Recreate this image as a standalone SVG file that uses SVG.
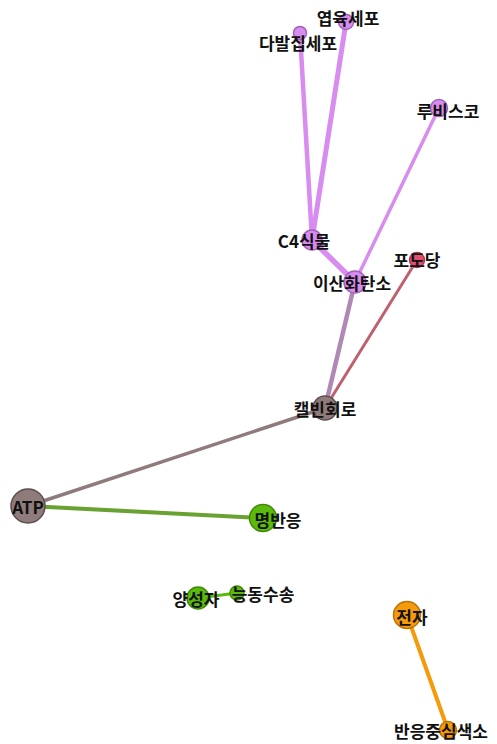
<svg xmlns="http://www.w3.org/2000/svg" width="497" height="744" viewBox="0 0 497 744">
  <style>
    .edge { fill: none; stroke-linecap: round; }
    .node circle { stroke-width: 1.5; }
    .purple circle { fill: #d98cf0; stroke: #a062b8; }
    .red circle { fill: #e04f72; stroke: #a83a52; }
    .brown circle { fill: #8f7b7b; stroke: #5e4e4e; }
    .green circle { fill: #5cba0c; stroke: #3f8a06; }
    .orange circle { fill: #f59a0a; stroke: #b67308; }
    text { font-family: "Noto Sans CJK KR", "Noto Sans", sans-serif; font-weight: bold; font-size: 17px; fill: #111; text-anchor: middle; dominant-baseline: central; }
  </style>
  <rect width="497" height="744" fill="#ffffff"/>

  <!-- connectors -->
  <g id="edges">
    <line class="edge" x1="346" y1="22" x2="312" y2="240" stroke="#d98cf0" stroke-width="5"/>
    <line class="edge" x1="300" y1="33" x2="312" y2="240" stroke="#d98cf0" stroke-width="4.5"/>
    <line class="edge" x1="312" y1="240" x2="355" y2="282" stroke="#d98cf0" stroke-width="5.5"/>
    <line class="edge" x1="439" y1="108" x2="355" y2="282" stroke="#d98cf0" stroke-width="3.5"/>
    <line class="edge" x1="355" y1="282" x2="325" y2="408" stroke="#b088b6" stroke-width="4.5"/>
    <line class="edge" x1="417" y1="260" x2="325" y2="408" stroke="#c0606e" stroke-width="3"/>
    <line class="edge" x1="325" y1="408" x2="28" y2="506" stroke="#8f7b7b" stroke-width="3.5"/>
    <line class="edge" x1="28" y1="506" x2="263" y2="518" stroke="#6aa232" stroke-width="4"/>
    <line class="edge" x1="198" y1="598" x2="237" y2="593" stroke="#5cba0c" stroke-width="3"/>
    <line class="edge" x1="407" y1="615" x2="448" y2="730" stroke="#f59a0a" stroke-width="4"/>
  </g>

  <!-- nodes -->
  <g id="n-yeopyuk" class="node purple"><circle cx="346" cy="22" r="7.5"/><text x="348" y="17">엽육세포</text></g>
  <g id="n-dabaljip" class="node purple"><circle cx="300" cy="33" r="6.5"/><text x="298" y="42">다발집세포</text></g>
  <g id="n-rubisco" class="node purple"><circle cx="439" cy="108" r="8.5"/><text x="448" y="110">루비스코</text></g>
  <g id="n-c4" class="node purple"><circle cx="312" cy="240" r="10"/><text x="304" y="240">C4식물</text></g>
  <g id="n-co2" class="node purple"><circle cx="355" cy="282" r="11"/><text x="352" y="282">이산화탄소</text></g>
  <g id="n-glucose" class="node red"><circle cx="417" cy="260" r="7.5"/><text x="417" y="259">포도당</text></g>
  <g id="n-calvin" class="node brown"><circle cx="325" cy="408" r="12"/><text x="325" y="408">캘빈회로</text></g>
  <g id="n-atp" class="node brown"><circle cx="28" cy="506" r="17"/><text x="28" y="506">ATP</text></g>
  <g id="n-light" class="node green"><circle cx="263" cy="518" r="13.5"/><text x="278" y="519">명반응</text></g>
  <g id="n-proton" class="node green"><circle cx="198" cy="598" r="11"/><text x="196" y="598">양성자</text></g>
  <g id="n-active" class="node green"><circle cx="237" cy="593" r="7"/><text x="263" y="593">능동수송</text></g>
  <g id="n-electron" class="node orange"><circle cx="407" cy="615" r="13.5"/><text x="412" y="616">전자</text></g>
  <g id="n-center" class="node orange"><circle cx="448" cy="730" r="8.5"/><text x="441" y="730">반응중심색소</text></g>
</svg>
